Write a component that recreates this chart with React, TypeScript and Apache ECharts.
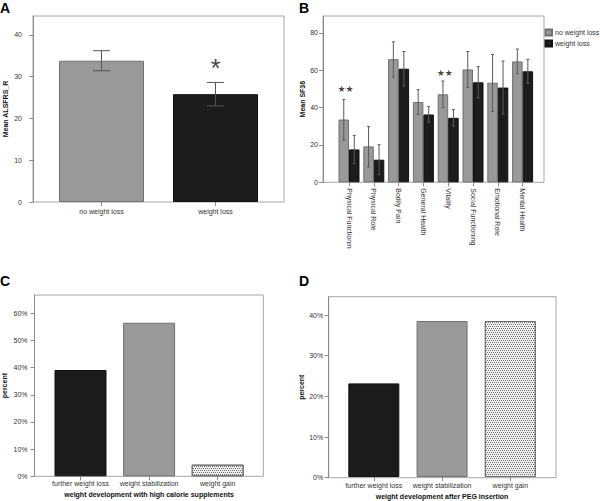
import React, { useEffect, useRef } from 'react';
import * as echarts from 'echarts';

// ---------- Panel A ----------
const aCategories = ['no weight loss', 'weight loss'];
const aMeans = [33.8, 25.8];
const aLow = [31.4, 23.0];
const aHigh = [36.2, 28.6];
const aTicks = [0, 10, 20, 30, 40];
const aMax = 44.5;
const aStarCat = 1;
const aStarValue = 33.6;

// ---------- Panel B ----------
const bCategories = [
  'Physical Functioning',
  'Physical Role',
  'Bodily Pain',
  'General Health',
  'Vitality',
  'Social Functioning',
  'Emotional Role',
  'Mental Health',
];
const bGroups = ['no weight loss', 'weight loss'];
const bNoLossMeans = [33.6, 19.2, 65.9, 43.0, 47.1, 60.4, 53.3, 64.7];
const bNoLossLow = [22.6, 8.2, 56.3, 36.3, 40.0, 50.7, 37.9, 58.1];
const bNoLossHigh = [44.3, 29.9, 75.2, 49.6, 54.2, 70.0, 68.4, 71.3];
const bLossMeans = [17.6, 12.1, 60.8, 36.3, 34.5, 53.5, 50.7, 59.4];
const bLossLow = [10.1, 4.1, 51.6, 32.1, 30.1, 45.1, 36.5, 53.0];
const bLossHigh = [25.1, 20.1, 70.0, 40.5, 38.9, 61.9, 64.9, 65.8];
const bTicks = [0, 20, 40, 60, 80];
const bMax = 89;
const bStarCats = [0, 4];
const bStarValues = [49.8, 58.5];

// ---------- Panel C ----------
const cCategories = ['further weight loss', 'weight stabilization', 'weight gain'];
const cValues = [39.1, 56.5, 4.3];
const cTicks = [0, 10, 20, 30, 40, 50, 60];
const cMax = 66.7;

// ---------- Panel D ----------
const dCategories = ['further weight loss', 'weight stabilization', 'weight gain'];
const dValues = [23.1, 38.5, 38.5];
const dTicks = [0, 10, 20, 30, 40];
const dMax = 44.5;

const FONT = '"Liberation Sans", Arial, Helvetica, sans-serif';
const TEXT = '#333333';
const AXIS = '#8a8a8a';
const FRAME = '#a6a6a6';
const GRAY = '#999999';
const BLACK = '#1c1c1c';

const decalDots = {
  symbol: 'rect',
  symbolSize: 1,
  color: '#6a6a6a',
  dashArrayX: [[1, 1], [0, 1, 1, 0]],
  dashArrayY: [1, 1],
  rotation: 0,
};

const catStyles = [
  { color: BLACK, borderColor: '#111111', borderWidth: 1 },
  { color: GRAY, borderColor: '#707070', borderWidth: 1 },
  { color: '#f2f2f2', borderColor: '#707070', borderWidth: 1, decal: decalDots },
];

function frameAxes(gi: number, max: number, ticks: number[], pct: boolean, name: string, nameGap: number, labelMargin: number) {
  return {
    x: { type: 'value', gridIndex: gi, show: false, min: 0, max: 1 },
    y: {
      type: 'value',
      gridIndex: gi,
      min: 0,
      max,
      name,
      nameLocation: 'middle',
      nameGap,
      nameTextStyle: { fontSize: 7, fontWeight: 'bold', color: '#111111', fontFamily: FONT },
      axisLine: { show: true, lineStyle: { color: AXIS, width: 1 } },
      axisTick: { show: true, length: 4, lineStyle: { color: AXIS }, customValues: ticks },
      axisLabel: {
        show: true,
        fontSize: 7,
        color: TEXT,
        fontFamily: FONT,
        margin: labelMargin,
        customValues: ticks,
        formatter: (v: number) => (pct ? `${v}%` : `${v}`),
      },
      splitLine: { show: false },
    },
  };
}

function hiddenY(gi: number, max: number) {
  return { type: 'value', gridIndex: gi, min: 0, max, show: false, splitLine: { show: false } };
}

function catX(gi: number, cats: string[], margin: number, extra: any = {}) {
  return {
    type: 'category',
    gridIndex: gi,
    data: cats,
    axisLine: { show: false },
    axisTick: { show: true, alignWithLabel: true, length: 4, lineStyle: { color: AXIS } },
    axisLabel: { fontSize: 7, color: TEXT, fontFamily: FONT, margin, interval: 0 },
    ...extra,
  };
}

function errRender(offset: number, cap: number, color: string) {
  return (params: any, api: any) => {
    const x = api.value(0);
    const lo = api.coord([x, api.value(1)]);
    const hi = api.coord([x, api.value(2)]);
    const px = lo[0] + offset;
    const style = { stroke: color, lineWidth: 1 };
    return {
      type: 'group',
      children: [
        { type: 'line', shape: { x1: px, y1: lo[1], x2: px, y2: hi[1] }, style },
        { type: 'line', shape: { x1: px - cap, y1: lo[1], x2: px + cap, y2: lo[1] }, style },
        { type: 'line', shape: { x1: px - cap, y1: hi[1], x2: px + cap, y2: hi[1] }, style },
      ],
    };
  };
}

export default function App() {
  const ref = useRef<HTMLDivElement>(null);

  useEffect(() => {
    if (!ref.current) return;
    const chart = echarts.init(ref.current, undefined, { renderer: 'svg' });

    const fa = frameAxes(0, aMax, aTicks, false, 'Mean ALSFRS_R', 24.5, 11);
    const fb = frameAxes(2, bMax, bTicks, false, 'Mean SF36', 15.5, 5);
    const fc = frameAxes(4, cMax, cTicks, true, 'percent', 26.5, 7);
    const fd = frameAxes(6, dMax, dTicks, true, 'percent', 22.5, 5.5);

    const BW = 10.5;
    const letterStyle = { fontSize: 14, fontWeight: 'bold', color: '#000000', fontFamily: FONT };

    const option: any = {
      animation: false,
      textStyle: { fontFamily: FONT },
      title: [
        { text: 'A', left: 0, top: 0.5, padding: 0, textStyle: letterStyle },
        { text: 'B', left: 299, top: 0.5, padding: 0, textStyle: letterStyle },
        { text: 'C', left: 0, top: 273.5, padding: 0, textStyle: letterStyle },
        { text: 'D', left: 299, top: 273.5, padding: 0, textStyle: letterStyle },
      ],
      legend: {
        orient: 'vertical',
        left: 544.5,
        top: 28.5,
        padding: 0,
        itemWidth: 6.5,
        itemHeight: 6,
        itemGap: 3,
        icon: 'rect',
        data: bGroups,
        textStyle: { fontSize: 7, color: TEXT, fontFamily: FONT, padding: [0, 0, 0, -2] },
      },
      grid: [
        { left: 33, top: 16, width: 251, height: 186, show: true, borderColor: FRAME, borderWidth: 1 },
        { left: 44.5, top: 16, width: 228, height: 186 },
        { left: 323, top: 16, width: 221, height: 166.3, show: true, borderColor: FRAME, borderWidth: 1 },
        { left: 336.6, top: 16, width: 198.4, height: 166.3 },
        { left: 33.7, top: 295, width: 229.6, height: 181.3, show: true, borderColor: FRAME, borderWidth: 1 },
        { left: 46.2, top: 295, width: 205.8, height: 181.3 },
        { left: 328.7, top: 296.7, width: 227.3, height: 181, show: true, borderColor: FRAME, borderWidth: 1 },
        { left: 339.7, top: 296.7, width: 204.75, height: 181 },
      ],
      xAxis: [
        fa.x,
        catX(1, aCategories, 5.5),
        fb.x,
        catX(3, bCategories, 6, {
          axisLabel: {
            fontSize: 7,
            color: TEXT,
            fontFamily: FONT,
            margin: 6,
            interval: 0,
            rotate: -90,
            width: 62,
            overflow: 'truncate',
            ellipsis: '',
          },
        }),
        fc.x,
        catX(5, cCategories, 4, {
          name: 'weight development with high calorie supplements',
          nameLocation: 'middle',
          nameGap: 15,
          nameTextStyle: { fontSize: 7, fontWeight: 'bold', color: '#111111', fontFamily: FONT },
        }),
        fd.x,
        catX(7, dCategories, 4.5, {
          name: 'weight development after PEG insertion',
          nameLocation: 'middle',
          nameGap: 16,
          nameTextStyle: { fontSize: 7, fontWeight: 'bold', color: '#111111', fontFamily: FONT },
        }),
      ],
      yAxis: [fa.y, hiddenY(1, aMax), fb.y, hiddenY(3, bMax), fc.y, hiddenY(5, cMax), fd.y, hiddenY(7, dMax)],
      series: [
        // Panel A
        {
          type: 'bar',
          xAxisIndex: 1,
          yAxisIndex: 1,
          barWidth: 85,
          data: aMeans.map((v, i) => ({ value: v, itemStyle: i === 0 ? catStyles[1] : catStyles[0] })),
        },
        {
          type: 'custom',
          xAxisIndex: 1,
          yAxisIndex: 1,
          renderItem: errRender(0, 8.5, '#555555'),
          encode: { x: 0, y: [1, 2] },
          data: aCategories.map((_, i) => [i, aLow[i], aHigh[i]]),
          z: 5,
        },
        {
          type: 'scatter',
          xAxisIndex: 1,
          yAxisIndex: 1,
          symbolSize: 1,
          itemStyle: { color: 'rgba(0,0,0,0)' },
          label: { show: true, position: 'inside', formatter: '*', fontSize: 26, color: '#111111', fontFamily: FONT, offset: [0, 6] },
          data: [[aStarCat, aStarValue]],
        },
        // Panel B
        {
          type: 'bar',
          name: bGroups[0],
          xAxisIndex: 3,
          yAxisIndex: 3,
          barWidth: BW,
          barGap: '0%',
          itemStyle: { color: GRAY, borderColor: '#707070', borderWidth: 1 },
          data: bNoLossMeans,
        },
        {
          type: 'bar',
          name: bGroups[1],
          xAxisIndex: 3,
          yAxisIndex: 3,
          barWidth: BW,
          barGap: '0%',
          itemStyle: { color: BLACK, borderColor: '#111111', borderWidth: 1 },
          data: bLossMeans,
        },
        {
          type: 'custom',
          xAxisIndex: 3,
          yAxisIndex: 3,
          renderItem: errRender(-BW / 2, 1.5, '#5a5a5a'),
          encode: { x: 0, y: [1, 2] },
          data: bCategories.map((_, i) => [i, bNoLossLow[i], bNoLossHigh[i]]),
          z: 5,
        },
        {
          type: 'custom',
          xAxisIndex: 3,
          yAxisIndex: 3,
          renderItem: errRender(BW / 2, 1.5, '#5a5a5a'),
          encode: { x: 0, y: [1, 2] },
          data: bCategories.map((_, i) => [i, bLossLow[i], bLossHigh[i]]),
          z: 5,
        },
        {
          type: 'scatter',
          xAxisIndex: 3,
          yAxisIndex: 3,
          symbolSize: 1,
          itemStyle: { color: 'rgba(0,0,0,0)' },
          label: { show: true, position: 'inside', formatter: '★★', fontSize: 9, color: '#111111', fontFamily: '"DejaVu Sans", sans-serif', offset: [-3.5, 0] },
          data: bStarCats.map((c, i) => [c, bStarValues[i]]),
        },
        // Panel C
        {
          type: 'bar',
          xAxisIndex: 5,
          yAxisIndex: 5,
          barWidth: 52,
          data: cValues.map((v, i) => ({ value: v, itemStyle: catStyles[i] })),
        },
        // Panel D
        {
          type: 'bar',
          xAxisIndex: 7,
          yAxisIndex: 7,
          barWidth: 51,
          data: dValues.map((v, i) => ({ value: v, itemStyle: catStyles[i] })),
        },
      ],
    };

    chart.setOption(option);
    return () => chart.dispose();
  }, []);

  return (
    <div
      ref={ref}
      style={{ position: 'fixed', left: 0, top: 0, width: 600, height: 501, background: '#fff' }}
    />
  );
}
